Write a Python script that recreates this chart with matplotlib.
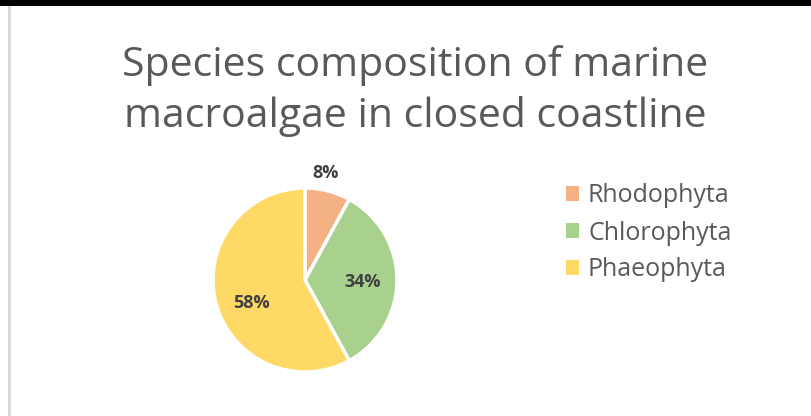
import matplotlib.pyplot as plt
from matplotlib.patches import Rectangle

labels = ["Rhodophyta", "Chlorophyta", "Phaeophyta"]
shares = [8, 34, 58]
colors = ["#F4B183", "#A9D18E", "#FFD966"]
title = "Species composition of marine\nmacroalgae in closed coastline"

plt.rcParams["font.family"] = ["Open Sans", "DejaVu Sans"]

fig = plt.figure(figsize=(8.11, 4.16), dpi=100)
fig.patch.set_facecolor("white")

# screenshot frame: black strip on top, grey chart border on the left
fig.add_artist(Rectangle((0, 1 - 6 / 416), 1, 6 / 416, transform=fig.transFigure,
                         facecolor="black", edgecolor="none"))
fig.add_artist(Rectangle((8 / 811, 0), 3 / 811, 1 - 6 / 416, transform=fig.transFigure,
                         facecolor="#D9D9D9", edgecolor="none"))

fig.text(415 / 811, 1 - 91 / 416, title, ha="center", va="center",
         fontsize=29.5, color="#595959", linespacing=1.3)

# pie: centre (305, 280), radius ~92 px
r = 92
ax = fig.add_axes([(305 - r) / 811, 1 - (280 + r) / 416, 2 * r / 811, 2 * r / 416])
wedges, texts = ax.pie(shares, colors=colors, startangle=90, counterclock=False,
                       wedgeprops=dict(edgecolor="white", linewidth=2.5))
ax.set_xlim(-1, 1)
ax.set_ylim(-1, 1)
ax.set_aspect("auto")

label_pos = [(326, 173), (363, 282), (251, 303)]
for (x, y), v in zip(label_pos, shares):
    fig.text(x / 811, 1 - y / 416, f"{v}%", ha="center", va="center",
             fontsize=13, fontweight="bold", color="#404040")

handles = [Rectangle((0, 0), 1, 1, facecolor=c, edgecolor="none") for c in colors]
leg = fig.legend(handles, labels, loc="upper left", bbox_to_anchor=(548 / 811, 1 - 166 / 416),
                 frameon=False, fontsize=18, handlelength=0.55, handleheight=0.55,
                 handletextpad=0.35, labelspacing=0.48, borderpad=0.2)
for t in leg.get_texts():
    t.set_color("#595959")

fig.savefig("out.png", dpi=100, facecolor="white")
